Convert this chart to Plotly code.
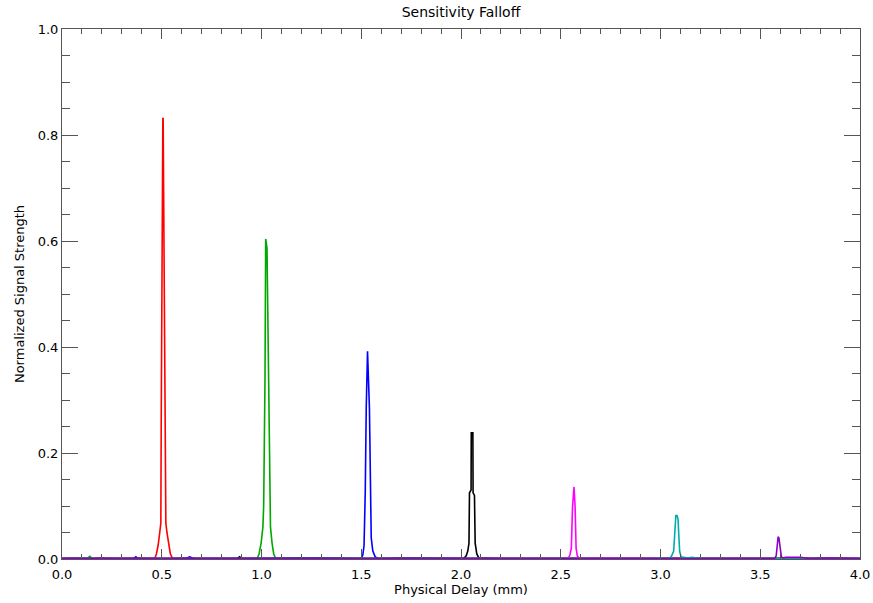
import plotly.graph_objects as go

# Data: physical delay (mm) and normalized signal strength per measurement
x_red = [0.00, 0.06, 0.12, 0.20, 0.30, 0.38, 0.45, 0.465, 0.4735, 0.4815, 0.4900, 0.4955, 0.4975, 0.5015, 0.5055,
         0.5070, 0.5110, 0.5185, 0.5205, 0.5260, 0.5345, 0.5430, 0.554, 0.60, 0.70, 0.90, 1.20, 1.60, 2.00, 2.60, 3.20, 4.00]
y_red = [0.001, 0.002, 0.001, 0.002, 0.001, 0.002, 0.001, 0.001, 0.010, 0.025, 0.050, 0.068, 0.272, 0.668, 0.831,
         0.831, 0.600, 0.272, 0.068, 0.050, 0.025, 0.010, 0.001, 0.002, 0.001, 0.001, 0.001, 0.001, 0.001, 0.001, 0.001, 0.001]

x_green = [0.00, 0.10, 0.13, 0.14, 0.15, 0.30, 0.60, 0.90, 0.978, 0.988, 0.998, 1.007, 1.011, 1.0175, 1.0195, 1.0210,
           1.0275, 1.0360, 1.0410, 1.0450, 1.0530, 1.0610, 1.071, 1.20, 1.60, 2.20, 3.00, 4.00]
y_green = [0.001, 0.001, 0.002, 0.005, 0.001, 0.001, 0.001, 0.002, 0.001, 0.010, 0.030, 0.060, 0.102, 0.338, 0.587, 0.604,
           0.587, 0.338, 0.102, 0.060, 0.030, 0.010, 0.001, 0.002, 0.001, 0.001, 0.001, 0.001]

x_blue = [0.00, 0.20, 0.36, 0.37, 0.38, 0.62, 0.64, 0.66, 1.00, 1.27, 1.50, 1.508, 1.514, 1.520, 1.525, 1.5295, 1.5315,
          1.541, 1.545, 1.550, 1.558, 1.570, 1.583, 1.70, 2.20, 3.00, 4.00]
y_blue = [0.001, 0.001, 0.001, 0.004, 0.001, 0.001, 0.004, 0.001, 0.002, 0.002, 0.001, 0.008, 0.025, 0.125, 0.285, 0.392, 0.392,
          0.285, 0.125, 0.040, 0.015, 0.004, 0.001, 0.002, 0.001, 0.001, 0.001]

x_black = [0.00, 0.40, 0.88, 0.89, 0.90, 1.60, 2.014, 2.026, 2.034, 2.040, 2.0425, 2.0505, 2.0515, 2.0595, 2.0605,
           2.0675, 2.071, 2.079, 2.089, 2.20, 3.00, 4.00]
y_black = [0.001, 0.001, 0.001, 0.004, 0.001, 0.001, 0.001, 0.006, 0.015, 0.030, 0.125, 0.130, 0.238, 0.238, 0.125,
           0.120, 0.030, 0.010, 0.002, 0.001, 0.001, 0.001]

x_magenta = [0.00, 1.00, 2.00, 2.538, 2.546, 2.553, 2.559, 2.5645, 2.5665, 2.572, 2.577, 2.583, 2.593, 2.70, 3.00, 4.00]
y_magenta = [0.001, 0.001, 0.001, 0.001, 0.008, 0.020, 0.098, 0.136, 0.136, 0.098, 0.020, 0.006, 0.001, 0.002, 0.001, 0.001]

x_cyan = [0.00, 1.00, 2.00, 2.99, 3.00, 3.01, 3.046, 3.056, 3.066, 3.072, 3.077, 3.083, 3.088, 3.092, 3.096, 3.103, 3.116,
          3.136, 3.156, 3.176, 3.206, 3.50, 4.00]
y_cyan = [0.001, 0.001, 0.001, 0.001, 0.003, 0.001, 0.001, 0.006, 0.015, 0.043, 0.082, 0.082, 0.075, 0.043, 0.015, 0.004,
          0.003, 0.002, 0.003, 0.002, 0.001, 0.001, 0.001]

x_purple = [0.00, 0.50, 1.00, 1.50, 2.00, 2.50, 3.00, 3.572, 3.580, 3.585, 3.5895, 3.5935, 3.599, 3.606, 3.616, 3.626,
            3.700, 3.750, 3.85, 4.00]
y_purple = [0.001, 0.001, 0.001, 0.001, 0.001, 0.001, 0.001, 0.001, 0.006, 0.020, 0.042, 0.040, 0.020, 0.004, 0.002, 0.003,
            0.003, 0.001, 0.002, 0.001]

series = [
    (x_red, y_red, "#FF0000"),
    (x_green, y_green, "#00A800"),
    (x_blue, y_blue, "#0000FF"),
    (x_black, y_black, "#000000"),
    (x_magenta, y_magenta, "#FF00FF"),
    (x_cyan, y_cyan, "#00ADAD"),
    (x_purple, y_purple, "#8A00C4"),
]

title_text = "Sensitivity Falloff"
x_title = "Physical Delay (mm)"
y_title = "Normalized Signal Strength"

fig = go.Figure()
for xs, ys, col in series:
    fig.add_trace(go.Scatter(x=xs, y=ys, mode="lines", line=dict(color=col, width=1.6),
                             showlegend=False, hoverinfo="skip"))

font_family = "DejaVu Sans, Verdana, sans-serif"
axis_common = dict(
    showline=True, linecolor="#555555", linewidth=1, mirror="ticks",
    ticks="inside", tickcolor="#555555", tickwidth=1,
    showgrid=False, zeroline=False, automargin=False,
    tickfont=dict(family=font_family, size=13, color="black"),
)

fig.update_layout(
    width=873, height=603,
    margin=dict(l=62, r=13, t=29, b=44),
    paper_bgcolor="white", plot_bgcolor="white",
    title=dict(text=title_text, x=0.5, xref="paper", y=1 - 12 / 603, yref="container",
               yanchor="middle", xanchor="center", automargin=False,
               font=dict(family=font_family, size=14, color="black")),
    xaxis=dict(range=[0, 4], dtick=0.5, tick0=0, tickformat=".1f", ticklen=10, ticklabelstandoff=3,
               minor=dict(dtick=0.1, ticklen=5, ticks="inside", tickcolor="#555555"),
               title=dict(text=x_title, standoff=0, font=dict(family=font_family, size=13, color="black")),
               **axis_common),
    yaxis=dict(range=[0, 1], dtick=0.2, tick0=0, tickformat=".1f", ticklen=16,
               minor=dict(dtick=0.05, ticklen=8, ticks="inside", tickcolor="#555555"),
               title=dict(text=y_title, standoff=10, font=dict(family=font_family, size=13, color="black")),
               **axis_common),
)

fig.write_html("out.html", config={"displayModeBar": False},
               post_script="document.body.style.margin='0px';document.body.style.overflow='hidden';")
